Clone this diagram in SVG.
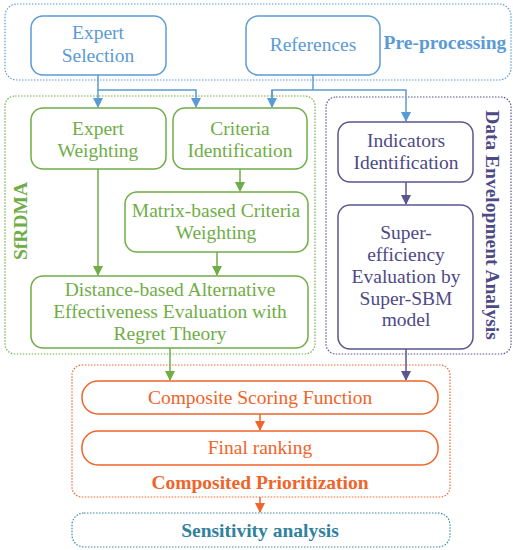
<svg xmlns="http://www.w3.org/2000/svg" width="513" height="550" viewBox="0 0 513 550">
<defs>
<style>
text{font-family:"Liberation Serif","DejaVu Serif",serif;text-anchor:middle}
.t{font-size:19.5px}
.b{font-weight:bold;font-size:19.5px}
.cont{fill:none;stroke-width:1.2;stroke-dasharray:1.5 1.5}
.box{fill:#fff;stroke-width:1.5}
.bl{stroke:#5b9bd5}
.gr{stroke:#70ad47}
.pu{stroke:#5a5590}
.or{stroke:#f0642a}
.se{stroke:#3a86a8}
.tbl{fill:#5b9bd5}
.tgr{fill:#70ad47}
.tpu{fill:#4e4a86}
.tor{fill:#f0642a}
.tse{fill:#31809e}
.ln{fill:none;stroke-width:1.5}
</style>
<marker id="ab" viewBox="0 0 10 10" refX="9" refY="5" markerWidth="10" markerHeight="10" markerUnits="userSpaceOnUse" orient="auto"><path d="M0,0L10,5L0,10z" fill="#5b9bd5"/></marker>
<marker id="ag" viewBox="0 0 10 10" refX="9" refY="5" markerWidth="10" markerHeight="10" markerUnits="userSpaceOnUse" orient="auto"><path d="M0,0L10,5L0,10z" fill="#70ad47"/></marker>
<marker id="ap" viewBox="0 0 10 10" refX="9" refY="5" markerWidth="10" markerHeight="10" markerUnits="userSpaceOnUse" orient="auto"><path d="M0,0L10,5L0,10z" fill="#5a5590"/></marker>
<marker id="ao" viewBox="0 0 10 10" refX="9" refY="5" markerWidth="10" markerHeight="10" markerUnits="userSpaceOnUse" orient="auto"><path d="M0,0L10,5L0,10z" fill="#f0642a"/></marker>
</defs>
<rect width="513" height="550" fill="#fff"/>

<g id="preprocessing">
<rect class="cont bl" x="5" y="4" width="506" height="76" rx="12"/>
<text class="b tbl" x="445" y="49">Pre-processing</text>
</g>
<g id="sfrdma">
<rect class="cont gr" x="5" y="96" width="310" height="258" rx="10"/>
<text class="b tgr" transform="translate(27,221) rotate(-90)">SfRDMA</text>
</g>
<g id="dea">
<rect class="cont pu" x="326" y="97" width="185" height="257" rx="10"/>
<text class="b tpu" transform="translate(486,225) rotate(90)">Data Envelopment Analysis</text>
</g>
<g id="composited">
<rect class="cont or" x="72" y="365" width="378" height="132" rx="10"/>
<text class="b tor" x="260" y="489">Composited Prioritization</text>
</g>

<g id="connectors">
<path class="ln bl" d="M98,75V90H196V107" marker-end="url(#ab)"/>
<path class="ln bl" d="M98,90V107" marker-end="url(#ab)"/>
<path class="ln bl" d="M313,75V90" />
<path class="ln bl" d="M272,107V90H406V121" marker-end="url(#ab)"/>
<path class="ln bl" d="M272,90V107" marker-end="url(#ab)"/>
<path class="ln gr" d="M98,169V275" marker-end="url(#ag)"/>
<path class="ln gr" d="M240,169V191" marker-end="url(#ag)"/>
<path class="ln gr" d="M217,252V275" marker-end="url(#ag)"/>
<path class="ln pu" d="M406,182V204" marker-end="url(#ap)"/>
<path class="ln gr" d="M170,348V380" marker-end="url(#ag)"/>
<path class="ln pu" d="M406,349V380" marker-end="url(#ap)"/>
<path class="ln or" d="M260,414V430" marker-end="url(#ao)"/>
<path class="ln or" d="M260,497V512" marker-end="url(#ao)"/>
</g>

<g id="expert-selection">
<rect class="box bl" x="31" y="16" width="135" height="59" rx="12"/>
<text class="t tbl" x="98" y="39">Expert</text>
<text class="t tbl" x="98" y="62">Selection</text>
</g>
<g id="references">
<rect class="box bl" x="246" y="16" width="134" height="59" rx="12"/>
<text class="t tbl" x="313" y="51">References</text>
</g>
<g id="expert-weighting">
<rect class="box gr" x="31" y="108" width="135" height="61" rx="12"/>
<text class="t tgr" x="98" y="135">Expert</text>
<text class="t tgr" x="98" y="157">Weighting</text>
</g>
<g id="criteria-identification">
<rect class="box gr" x="173" y="108" width="134" height="61" rx="12"/>
<text class="t tgr" x="240" y="135">Criteria</text>
<text class="t tgr" x="240" y="157">Identification</text>
</g>
<g id="matrix-weighting">
<rect class="box gr" x="125" y="192" width="183" height="60" rx="12"/>
<text class="t tgr" x="216" y="217">Matrix-based Criteria</text>
<text class="t tgr" x="216" y="239">Weighting</text>
</g>
<g id="distance-based">
<rect class="box gr" x="31" y="276" width="277" height="72" rx="12"/>
<text class="t tgr" x="170" y="296">Distance-based Alternative</text>
<text class="t tgr" x="170" y="318">Effectiveness Evaluation with</text>
<text class="t tgr" x="170" y="340">Regret Theory</text>
</g>
<g id="indicators-identification">
<rect class="box pu" x="338" y="122" width="135" height="60" rx="12"/>
<text class="t tpu" x="406" y="147">Indicators</text>
<text class="t tpu" x="406" y="169">Identification</text>
</g>
<g id="super-efficiency">
<rect class="box pu" x="338" y="205" width="135" height="144" rx="12"/>
<text class="t tpu" x="406" y="239">Super-</text>
<text class="t tpu" x="406" y="261">efficiency</text>
<text class="t tpu" x="406" y="283">Evaluation by</text>
<text class="t tpu" x="406" y="305">Super-SBM</text>
<text class="t tpu" x="406" y="326">model</text>
</g>
<g id="composite-scoring">
<rect class="box or" x="82" y="381" width="356" height="33" rx="16"/>
<text class="t tor" x="260" y="404">Composite Scoring Function</text>
</g>
<g id="final-ranking">
<rect class="box or" x="82" y="431" width="356" height="34" rx="16"/>
<text class="t tor" x="260" y="454">Final ranking</text>
</g>
<g id="sensitivity">
<rect class="cont se" x="72" y="513" width="378" height="34" rx="12"/>
<text class="b tse" x="260" y="537">Sensitivity analysis</text>
</g>
</svg>
